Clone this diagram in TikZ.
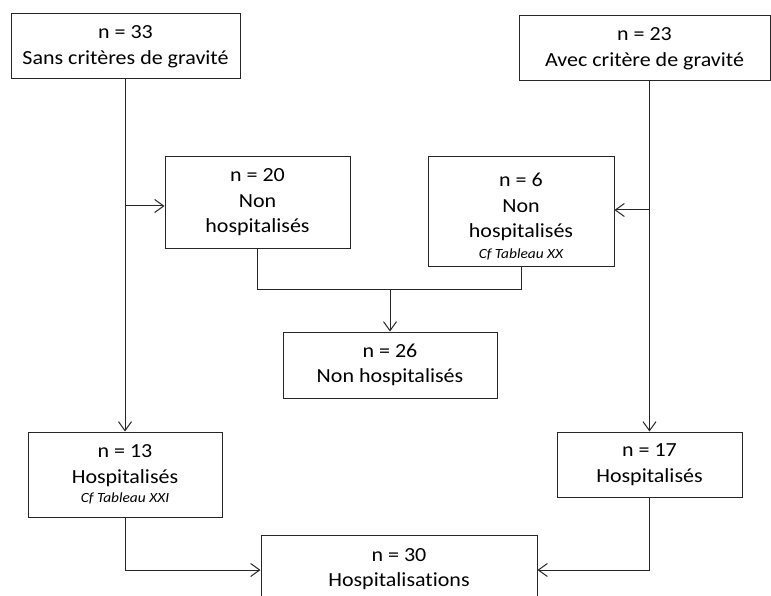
\documentclass[tikz,border=0pt]{standalone}
\usepackage{fontspec}
\setmainfont{Carlito}[FakeStretch=1.1,Ligatures=NoCommon]
\usetikzlibrary{arrows.meta}
\begin{document}
\begin{tikzpicture}[x=1pt,y=-1pt,
  box/.style={draw=black!85,line width=1pt,fill=white,align=center,inner sep=0pt,
    font=\fontsize{20}{25.5}\selectfont},
  conn/.style={draw=black!85,line width=1pt},
  arr/.style={conn,-{Straight Barb[length=9pt,width=13pt,line width=1pt]}}]
\newcommand\smallref[1]{{\fontsize{14}{14}\selectfont\itshape #1}}
\useasboundingbox (0,0) rectangle (771,596);
\node[box,minimum width=229,minimum height=65] (A) at (125.5,46.5) {n = 33\\Sans critères de gravité};
\node[box,minimum width=251,minimum height=65] (B) at (644.5,48.5) {n = 23\\Avec critère de gravité};
\node[box,minimum width=185,minimum height=91] (C) at (257.5,202.5) {n = 20\\Non\\hospitalisés};
\node[box,minimum width=186,minimum height=109] (E) at (521,211.5) {\rule{0pt}{24pt}n = 6\\Non\\hospitalisés\\[-5pt]\smallref{Cf Tableau XX}};
\node[box,minimum width=214,minimum height=66] (F) at (390,365) {n = 26\\Non hospitalisés};
\node[box,minimum width=194,minimum height=85] (D) at (125,474.5) {n = 13\\Hospitalisés\\[-6pt]\smallref{Cf Tableau XXI}};
\node[box,minimum width=185,minimum height=65] (G) at (649.5,464.5) {n = 17\\Hospitalisés};
\node[box,minimum width=276,minimum height=68] (H) at (399,569) {n = 30\\Hospitalisations};
% left branch
\draw[arr] (A.south -| D.north) -- (D.north);
\coordinate (ca) at (126,206);
\draw[arr] (ca) -- (ca -| C.west);
% right branch
\draw[arr] (B.south -| G.north) -- (G.north);
\coordinate (cb) at (649.5,210);
\draw[arr] (cb) -- (cb -| E.east);
% merge non hospitalises
\coordinate (j) at (390,289);
\draw[conn] (C.south) -- (C.south |- j) -- (E.south |- j) -- (E.south);
\draw[arr] (j) -- (F.north);
% merge hospitalises
\coordinate (hl) at (125,570);
\coordinate (hr) at (649.5,570);
\draw[arr] (D.south) -- (hl) -- (hl -| H.west);
\draw[arr] (G.south) -- (hr) -- (hr -| H.east);
\end{tikzpicture}
\end{document}
